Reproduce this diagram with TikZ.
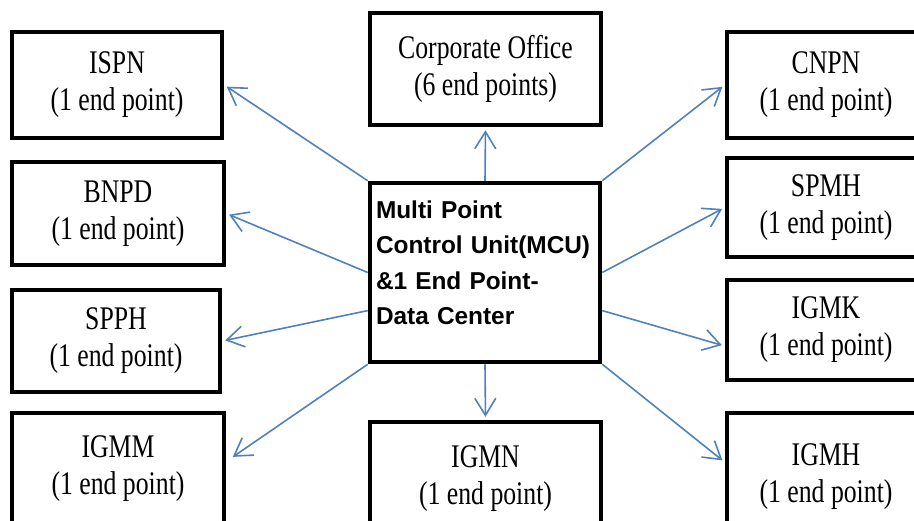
\documentclass[tikz,border=0pt]{standalone}
\usepackage{fontspec}
\newfontfamily\boxserif[FakeStretch=0.78]{Liberation Serif}
\newfontfamily\mcusans{Liberation Sans}
\usepackage{tikz}
\usetikzlibrary{arrows.meta}
\definecolor{linkblue}{RGB}{79,129,189}

\begin{document}
\begin{tikzpicture}[x=1pt,y=-1pt,
  site/.style={draw=black, line width=4.5pt, fill=white, align=center, inner sep=0pt,
    font=\boxserif\fontsize{33}{37}\selectfont},
  mcubox/.style={draw=black, line width=4.5pt, fill=white, minimum height=179pt,
    inner xsep=6pt, text width=218pt, align=left,
    font=\mcusans\bfseries\fontsize{24.4}{35.5}\selectfont},
  link/.style={draw=linkblue, line width=1.6pt, -{Straight Barb[length=17pt,width=21pt]}, shorten >=3pt}]
\useasboundingbox (0,0) rectangle (914,520);
\clip (0,0) rectangle (914,520);

% Left column
\node[site, minimum width=210pt, minimum height=106pt] (ispn) at (117,85) {ISPN\\(1 end point)};
\node[site, minimum width=212pt, minimum height=103pt] (bnpd) at (118,213.5) {BNPD\\(1 end point)};
\node[site, minimum width=208pt, minimum height=102pt] (spph) at (116,341) {SPPH\\(1 end point)};
\node[site, minimum width=212pt, minimum height=112pt] (igmm) at (118,469) {IGMM\\(1 end point)};

% Middle column
\node[site, minimum width=231pt, minimum height=112pt] (corp) at (485.5,69) {Corporate Office\\(6 end points)};
\node[mcubox] (mcu) at (485,272.5) {Multi Point\\Control Unit(MCU)\\\&1 End Point-\\Data Center\rule[-20pt]{0pt}{0pt}};
\node[site, minimum width=231pt, minimum height=113pt] (igmn) at (485.5,478.5) {IGMN\\(1 end point)};

% Right column
\node[site, minimum width=198pt, minimum height=106pt] (cnpn) at (826,85) {CNPN\\(1 end point)};
\node[site, minimum width=198pt, minimum height=99pt] (spmh) at (826,207.5) {SPMH\\(1 end point)};
\node[site, minimum width=198pt, minimum height=100pt] (igmk) at (826,330) {IGMK\\(1 end point)};
\node[site, minimum width=198pt, minimum height=127pt] (igmh) at (826,476.5) {IGMH\\(1 end point)};

% Links from the MCU
\draw[link] (mcu.north west) -- (ispn.east);
\draw[link] (mcu.west) -- (bnpd.east);
\draw[link] (mcu.198) -- (spph.east);
\draw[link, shorten >=8pt] (mcu.south west) -- (igmm.4);
\draw[link] (mcu.north) -- (corp.south);
\draw[link] (mcu.south) -- (igmn.north);
\draw[link] (mcu.north east) -- (cnpn.west);
\draw[link] (mcu.east) -- (spmh.west);
\draw[link] (mcu.-18) -- (igmk.189);
\draw[link] (mcu.south east) -- (igmh.172);
\end{tikzpicture}
\end{document}
